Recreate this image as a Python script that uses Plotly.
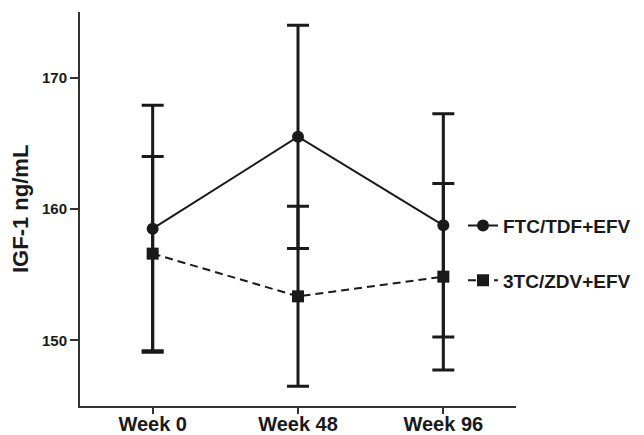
import plotly.graph_objects as go

weeks = ["Week 0", "Week 48", "Week 96"]
ftc_mean = [158.5, 165.5, 158.76]
ftc_err = [9.4, 8.5, 8.5]
ztc_mean = [156.6, 153.35, 154.85]
ztc_err = [7.4, 6.85, 7.1]
y_ticks = [150, 160, 170]

FONT = "Liberation Sans, Arial, sans-serif"
INK = "#1a1a1a"

# page body has an 8px margin, so the figure is laid out in its own coords
L, T = 72, 4
PW, PH = 436, 394

fig = go.Figure()
fig.add_trace(go.Scatter(
    x=weeks, y=ftc_mean, name="FTC/TDF+EFV", legendgroup="a",
    mode="lines+markers",
    line=dict(color=INK, width=2),
    marker=dict(symbol="circle", size=12, color=INK),
    error_y=dict(type="data", array=ftc_err, symmetric=True,
                 color=INK, thickness=3, width=11),
))
fig.add_trace(go.Scatter(
    x=weeks, y=ztc_mean, name="3TC/ZDV+EFV", legendgroup="b",
    mode="lines+markers",
    line=dict(color=INK, width=2, dash="8px,5px"),
    marker=dict(symbol="square", size=12, color=INK),
    error_y=dict(type="data", array=ztc_err, symmetric=True,
                 color=INK, thickness=3, width=11),
))

fig.update_layout(
    width=644, height=435,
    margin=dict(l=L, r=644 - L - PW, t=T, b=435 - T - PH, autoexpand=False),
    paper_bgcolor="white", plot_bgcolor="white",
    font=dict(family=FONT, color=INK),
    showlegend=True,
    legend=dict(
        x=(455 - L) / PW, xanchor="left",
        y=1 - (198.7 - T) / PH, yanchor="top",
        bgcolor="rgba(0,0,0,0)",
        font=dict(family=FONT, size=19, weight="bold", color=INK),
        traceorder="grouped", tracegroupgap=27,
    ),
    xaxis=dict(
        type="category", range=[-0.5, 2.5],
        showline=True, linecolor="#333", linewidth=2,
        ticks="outside", ticklen=6, tickwidth=2, tickcolor="#333",
        ticklabelstandoff=-7,
        showgrid=False, zeroline=False, automargin=False,
        tickfont=dict(family=FONT, size=20, weight="bold", color=INK),
    ),
    yaxis=dict(
        range=[145, 175], tickvals=y_ticks,
        showline=True, linecolor="#333", linewidth=2,
        ticks="outside", ticklen=8, tickwidth=2, tickcolor="#333",
        showgrid=False, zeroline=False, automargin=False,
        tickfont=dict(family=FONT, size=15, weight="bold", color=INK),
    ),
    annotations=[dict(
        text="IGF-1 ng/mL", textangle=-90,
        xref="paper", yref="paper", x=(12 - L) / PW, y=0.5,
        xanchor="center", yanchor="middle", showarrow=False,
        font=dict(family=FONT, size=22, weight="bold", color=INK),
    )],
)

fig.write_html("out.html")
